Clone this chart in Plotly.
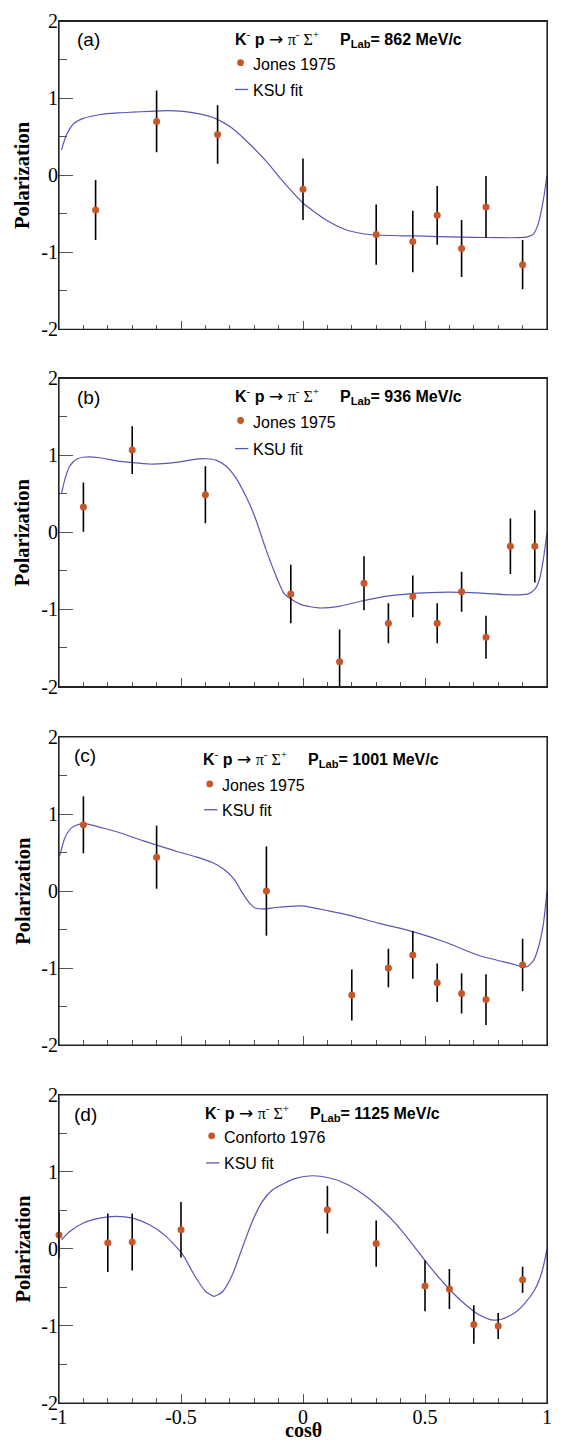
import plotly.graph_objects as go

# ---------------- data ----------------
cos_a = [-0.85, -0.60, -0.35, 0.00, 0.30, 0.45, 0.55, 0.65, 0.75, 0.90]
pol_a = [-0.45, 0.70, 0.53, -0.18, -0.77, -0.86, -0.52, -0.95, -0.41, -1.16]
err_a = [0.39, 0.40, 0.38, 0.40, 0.39, 0.40, 0.38, 0.37, 0.40, 0.32]

cos_b = [-0.90, -0.70, -0.40, -0.05, 0.15, 0.25, 0.35, 0.45, 0.55, 0.65, 0.75, 0.85, 0.95]
pol_b = [0.33, 1.07, 0.49, -0.80, -1.68, -0.66, -1.18, -0.83, -1.18, -0.77, -1.36, -0.18, -0.18]
err_b = [0.32, 0.31, 0.37, 0.38, 0.42, 0.35, 0.26, 0.27, 0.26, 0.26, 0.28, 0.36, 0.47]

cos_c = [-0.90, -0.60, -0.15, 0.20, 0.35, 0.45, 0.55, 0.65, 0.75, 0.90]
pol_c = [0.86, 0.44, 0.00, -1.35, -1.00, -0.83, -1.19, -1.33, -1.41, -0.96]
err_c = [0.37, 0.41, 0.58, 0.33, 0.25, 0.31, 0.25, 0.26, 0.33, 0.34]

cos_d = [-1.00, -0.80, -0.70, -0.50, 0.10, 0.30, 0.50, 0.60, 0.70, 0.80, 0.90]
pol_d = [0.18, 0.08, 0.09, 0.25, 0.51, 0.07, -0.48, -0.52, -0.98, -1.00, -0.40]
err_d = [0.30, 0.38, 0.37, 0.36, 0.31, 0.30, 0.33, 0.26, 0.25, 0.17, 0.17]

fit_x_a = [-0.99, -0.97, -0.94, -0.90, -0.83, -0.76, -0.70, -0.63, -0.56, -0.49, -0.43, -0.36,
           -0.29, -0.22, -0.15, -0.09, 0.00, 0.10, 0.17, 0.24, 0.30, 0.40, 0.50, 0.60, 0.70,
           0.80, 0.88, 0.92, 0.945, 0.965, 0.985, 1.00]
fit_y_a = [0.33, 0.52, 0.67, 0.74, 0.79, 0.81, 0.82, 0.83, 0.84, 0.83, 0.80, 0.74,
           0.61, 0.41, 0.18, -0.05, -0.36, -0.59, -0.70, -0.755, -0.775, -0.785, -0.79, -0.80, -0.805,
           -0.81, -0.81, -0.80, -0.76, -0.62, -0.32, 0.00]

fit_x_b = [-0.99, -0.976, -0.956, -0.929, -0.888, -0.833, -0.765, -0.697, -0.629, -0.561, -0.493,
           -0.439, -0.398, -0.357, -0.316, -0.276, -0.235, -0.194, -0.153, -0.112, -0.078, -0.051,
           -0.004, 0.064, 0.146, 0.241, 0.337, 0.445, 0.554, 0.649, 0.745, 0.853, 0.92, 0.95,
           0.97, 0.985, 1.00]
fit_y_b = [0.50, 0.69, 0.86, 0.95, 0.98, 0.97, 0.93, 0.906, 0.889, 0.897, 0.923,
           0.953, 0.957, 0.94, 0.863, 0.713, 0.477, 0.176, -0.21, -0.553, -0.79, -0.86,
           -0.94, -0.98, -0.96, -0.89, -0.83, -0.793, -0.777, -0.777, -0.79, -0.81, -0.80, -0.74,
           -0.60, -0.35, 0.00]

fit_x_c = [-0.997, -0.976, -0.949, -0.915, -0.888, -0.82, -0.738, -0.657, -0.602, -0.52, -0.439,
           -0.371, -0.323, -0.282, -0.249, -0.221, -0.194, -0.153, -0.112, -0.004, 0.105, 0.20,
           0.309, 0.446, 0.582, 0.718, 0.861, 0.90, 0.92, 0.945, 0.965, 0.985, 1.00]
fit_y_c = [0.46, 0.69, 0.82, 0.869, 0.873, 0.818, 0.744, 0.654, 0.598, 0.516, 0.444,
           0.37, 0.28, 0.151, -0.021, -0.15, -0.223, -0.232, -0.214, -0.193, -0.258, -0.323,
           -0.417, -0.524, -0.662, -0.834, -0.95, -0.985, -0.98, -0.90, -0.73, -0.43, 0.00]

fit_x_d = [-0.99, -0.956, -0.902, -0.833, -0.765, -0.698, -0.629, -0.561, -0.493, -0.439, -0.398,
           -0.364, -0.33, -0.289, -0.249, -0.208, -0.167, -0.126, -0.078, -0.031, 0.037, 0.105,
           0.173, 0.241, 0.309, 0.378, 0.445, 0.513, 0.582, 0.649, 0.718, 0.772, 0.813, 0.864,
           0.908, 0.952, 0.981, 1.00]
fit_y_d = [0.12, 0.228, 0.335, 0.40, 0.422, 0.40, 0.314, 0.164, -0.073, -0.374, -0.555,
           -0.615, -0.555, -0.331, 0.013, 0.357, 0.615, 0.765, 0.851, 0.916, 0.951, 0.925,
           0.851, 0.723, 0.551, 0.335, 0.077, -0.203, -0.461, -0.675, -0.847, -0.92, -0.912, -0.839,
           -0.71, -0.516, -0.28, 0.00]

panel_tags = ["(a)", "(b)", "(c)", "(d)"]
momenta = ["862", "936", "1001", "1125"]
data_labels = ["Jones 1975", "Jones 1975", "Jones 1975", "Conforto 1976"]
fit_label = "KSU fit"
x_tickvals = [-1, -0.5, 0, 0.5, 1]
x_ticktext = ["-1", "-0.5", "0", "0.5", "1"]
y_tickvals = [-2, -1, 0, 1, 2]
y_ticktext = ["-2", "-1", "0", "1", "2"]

panels = [
    (cos_a, pol_a, err_a, fit_x_a, fit_y_a),
    (cos_b, pol_b, err_b, fit_x_b, fit_y_b),
    (cos_c, pol_c, err_c, fit_x_c, fit_y_c),
    (cos_d, pol_d, err_d, fit_x_d, fit_y_d),
]

# ---------------- layout geometry (pixels) ----------------
W, H = 562, 1443
L, R, T, B = 59, 13, 10, 40
PW, PH = W - L - R, H - T - B
panel_top = [10.3, 370.3, 731.7, 1092.5]
panel_h = 310.5

geo = [
    dict(tag=(88.3, 28.3), rx=234.0, ry=27.5, px=339.3, mk=(241.3, 52.0), ly=79.0),
    dict(tag=(89.0, 390.0), rx=234.0, ry=387.7, px=339.3, mk=(241.3, 412.7), ly=441.0),
    dict(tag=(84.7, 750.8), rx=201.7, ry=753.3, px=306.7, mk=(210.3, 779.0), ly=805.0),
    dict(tag=(85.8, 1112.0), rx=203.3, ry=1109.7, px=309.3, mk=(212.3, 1133.7), ly=1161.0),
]

def fx(p):
    return (p - L) / PW

def fy(p):
    return 1 - (p - T) / PH

def clamp(v):
    return min(1.0, max(0.0, v))

MC = "#c8562b"
LC = "#5858b4"
SERIF = "Liberation Serif"
SANS = "Liberation Sans"

fig = go.Figure()
annotations = []
shapes = []

minor_x = [round(-1 + 0.1 * i, 1) for i in range(21)]
minor_y = [round(-2 + 0.5 * i, 1) for i in range(9)]

for i, (cx, py_, ey, fxv, fyv) in enumerate(panels):
    n = i + 1
    xa = "x" if n == 1 else f"x{n}"
    ya = "y" if n == 1 else f"y{n}"
    fig.add_trace(go.Scatter(x=fxv, y=fyv, mode="lines", xaxis=xa, yaxis=ya,
                             line=dict(color=LC, width=1.2, shape="spline", smoothing=0.6),
                             showlegend=False, hoverinfo="skip"))
    fig.add_trace(go.Scatter(x=cx, y=py_, mode="markers", xaxis=xa, yaxis=ya,
                             marker=dict(color=MC, size=7, line=dict(width=0)),
                             error_y=dict(type="data", array=ey, color="black",
                                          thickness=1.6, width=0),
                             cliponaxis=(n != 4), showlegend=False))

    top = panel_top[i]
    dom = [clamp(fy(top + panel_h)), clamp(fy(top))]
    fig.layout[f"xaxis{n if n > 1 else ''}"] = dict(
        domain=[0, 1], anchor=ya, range=[-1, 1], showgrid=False, zeroline=False,
        showline=True, mirror=True, linecolor="#222", linewidth=1.2,
        tickmode="array", tickvals=x_tickvals, ticktext=x_ticktext,
        ticks="inside", ticklen=8.5, tickwidth=1, tickcolor="#555",
        showticklabels=(n == 4), ticklabelstandoff=-4,
        tickfont=dict(family=SERIF, size=20, color="black"),
        minor=dict(tickmode="array", tickvals=minor_x, ticks="inside", ticklen=4.5,
                   tickwidth=1, tickcolor="#555", showgrid=False),
    )
    fig.layout[f"yaxis{n if n > 1 else ''}"] = dict(
        domain=dom, anchor=xa, range=[-2, 2], showgrid=False, zeroline=False,
        showline=True, mirror=True, linecolor="#222", linewidth=1.2,
        tickmode="array", tickvals=y_tickvals, ticktext=y_ticktext,
        ticks="inside", ticklen=14, tickwidth=1, tickcolor="#555",
        ticklabelstandoff=-4,
        tickfont=dict(family=SERIF, size=20, color="black"),
        minor=dict(tickmode="array", tickvals=minor_y, ticks="inside", ticklen=7.5,
                   tickwidth=1, tickcolor="#555", showgrid=False),
    )
    shapes.append(dict(type="rect", xref=f"{xa} domain", yref=f"{ya} domain",
                       x0=0, x1=1, y0=0, y1=1, line=dict(color="#222", width=1.2),
                       fillcolor="rgba(0,0,0,0)", layer="above"))

    g = geo[i]
    annotations.append(dict(text="<b>Polarization</b>", textangle=-90, xref="paper", yref="paper",
                            x=fx(22.5), y=fy(top + panel_h / 2), showarrow=False,
                            xanchor="center", yanchor="middle",
                            font=dict(family=SERIF, size=20.5, color="black")))
    annotations.append(dict(text=panel_tags[i], xref="paper", yref="paper",
                            x=fx(g["tag"][0]), y=fy(g["tag"][1]), showarrow=False,
                            xanchor="center", yanchor="middle",
                            font=dict(family=SANS, size=19, color="black")))
    annotations.append(dict(
        text=("<b>K</b><sup>-</sup> <b>p</b> "
              "<span style='font-family:DejaVu Sans;font-size:17px'>→</span> "
              "<span style='font-family:Liberation Serif'>π<sup>-</sup> Σ<sup>+</sup></span>"),
        xref="paper", yref="paper", x=fx(g["rx"]), y=fy(g["ry"]), showarrow=False,
        xanchor="left", yanchor="middle", font=dict(family=SANS, size=16, color="black")))
    annotations.append(dict(
        text=f"<b>P<sub>Lab</sub>= {momenta[i]} MeV/c</b>",
        xref="paper", yref="paper", x=fx(g["px"]), y=fy(g["ry"] + 2), showarrow=False,
        xanchor="left", yanchor="middle", font=dict(family=SANS, size=16, color="black")))
    mx, my = g["mk"]
    shapes.append(dict(type="circle", xref="paper", yref="paper", xsizemode="pixel",
                       ysizemode="pixel", xanchor=fx(mx), yanchor=fy(my),
                       x0=-3.4, x1=3.4, y0=-3.4, y1=3.4, fillcolor=MC, line=dict(width=0)))
    annotations.append(dict(text=data_labels[i], xref="paper", yref="paper",
                            x=fx(mx + 10.4), y=fy(my + 2), showarrow=False,
                            xanchor="left", yanchor="middle",
                            font=dict(family=SANS, size=16, color="black")))
    shapes.append(dict(type="line", xref="paper", yref="paper",
                       x0=fx(mx - 5.6), x1=fx(mx + 7.7), y0=fy(g["ly"]), y1=fy(g["ly"]),
                       line=dict(color=LC, width=1.3)))
    annotations.append(dict(text=fit_label, xref="paper", yref="paper",
                            x=fx(mx + 10.4), y=fy(g["ly"] + 1), showarrow=False,
                            xanchor="left", yanchor="middle",
                            font=dict(family=SANS, size=16, color="black")))

annotations.append(dict(text="<b>cosθ</b>", xref="paper", yref="paper",
                        x=fx(304.2), y=fy(1430.5), showarrow=False,
                        xanchor="center", yanchor="middle",
                        font=dict(family=SERIF, size=20, color="black")))

fig.update_layout(
    width=W, height=H, margin=dict(l=L, r=R, t=T, b=B),
    paper_bgcolor="white", plot_bgcolor="white",
    annotations=annotations, shapes=shapes, showlegend=False,
)

fig.write_html("out.html", config={"displayModeBar": False},
               post_script="document.body.style.margin='0';document.body.style.overflow='hidden';")
